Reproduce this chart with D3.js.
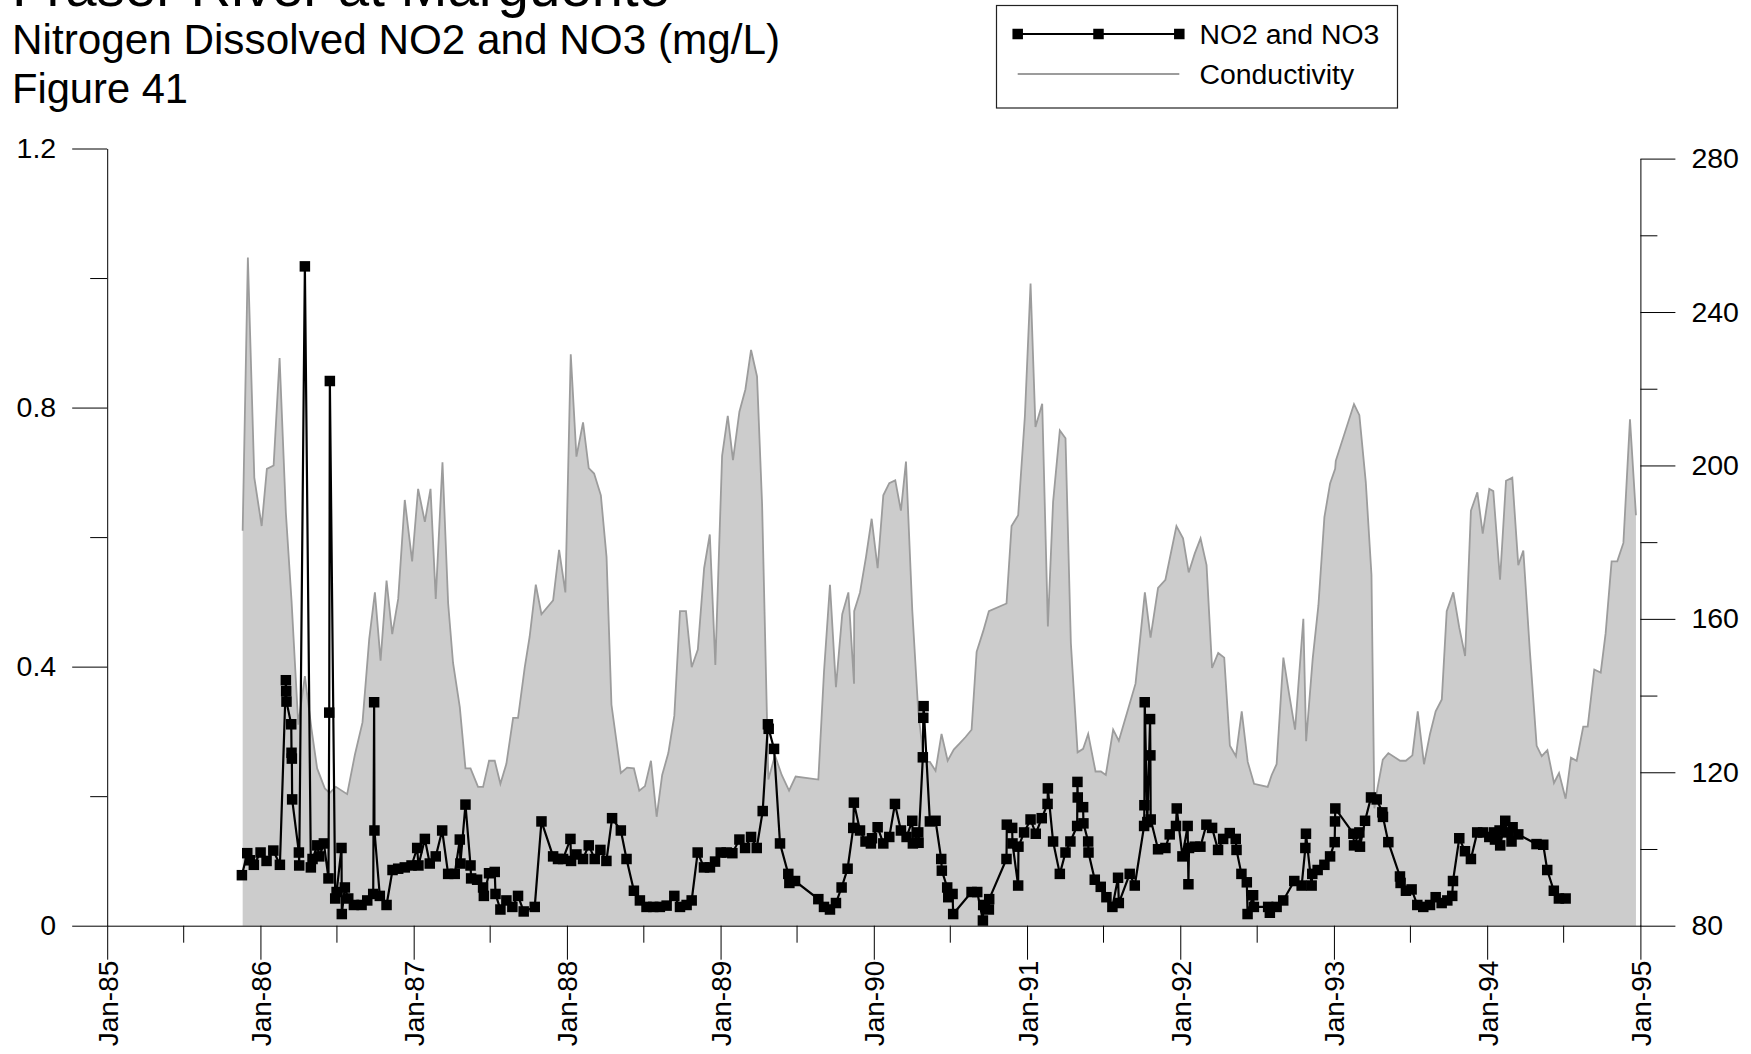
<!DOCTYPE html>
<html>
<head>
<meta charset="utf-8">
<script src="https://cdn.jsdelivr.net/npm/d3@7/dist/d3.min.js"></script>
<style>
  html, body { margin: 0; padding: 0; background: #fff; }
  svg { display: block; }
  text { font-family: "Liberation Sans", Arial, Helvetica, sans-serif; fill: #000; }
</style>
</head>
<body>
<svg id="chart" width="1751" height="1054"></svg>
<script>
// ---------------- DATA ----------------
const titleLines = ["Fraser River at Marguerite", "Nitrogen Dissolved NO2 and NO3 (mg/L)", "Figure 41"];
const seriesNames = ["NO2 and NO3", "Conductivity"];

const leftMajorTicks = [0, 0.4, 0.8, 1.2];
const leftMinorTicks = [0.2, 0.6, 1.0];
const rightMajorTicks = [80, 120, 160, 200, 240, 280];
const rightMinorTicks = [100, 140, 180, 220, 260];
const yearTicks = [1985, 1986, 1987, 1988, 1989, 1990, 1991, 1992, 1993, 1994, 1995];

// Conductivity (decimal year, value)
const condYear = [
1985.884,1985.918,1985.960,1986.008,1986.042,1986.086,1986.125,1986.166,1986.203,1986.247,
1986.290,1986.333,1986.370,1986.420,1986.452,1986.492,1986.566,1986.616,1986.666,1986.710,
1986.747,1986.784,1986.823,1986.860,1986.899,1986.942,1986.990,1987.029,1987.073,1987.110,
1987.144,1987.188,1987.225,1987.257,1987.301,1987.338,1987.371,1987.420,1987.453,1987.492,
1987.529,1987.566,1987.605,1987.649,1987.681,1987.725,1987.757,1987.797,1987.834,1987.910,
1987.949,1987.990,1988.025,1988.062,1988.105,1988.142,1988.177,1988.221,1988.258,1988.290,
1988.351,1988.392,1988.436,1988.471,1988.508,1988.547,1988.584,1988.620,1988.660,1988.699,
1988.736,1988.775,1988.812,1988.852,1988.893,1988.930,1988.966,1989.010,1989.047,1989.081,
1989.123,1989.162,1989.199,1989.238,1989.271,1989.312,1989.355,1989.399,1989.447,1989.490,
1989.638,1989.675,1989.714,1989.753,1989.794,1989.834,1989.871,1989.872,1989.910,1989.949,
1989.986,1990.025,1990.062,1990.101,1990.140,1990.177,1990.210,1990.251,1990.290,1990.327,
1990.366,1990.403,1990.442,1990.482,1990.522,1990.562,1990.599,1990.638,1990.671,1990.714,
1990.751,1990.866,1990.899,1990.942,1990.986,1991.023,1991.055,1991.099,1991.136,1991.170,
1991.214,1991.251,1991.286,1991.330,1991.366,1991.399,1991.447,1991.482,1991.514,1991.562,
1991.599,1991.708,1991.769,1991.806,1991.855,1991.903,1991.975,1992.018,1992.055,1992.094,
1992.132,1992.171,1992.207,1992.247,1992.286,1992.323,1992.362,1992.400,1992.439,1992.480,
1992.569,1992.595,1992.627,1992.671,1992.708,1992.747,1992.801,1992.819,1992.862,1992.899,
1992.938,1992.975,1993.008,1993.012,1993.131,1993.166,1993.208,1993.245,1993.264,1993.284,
1993.319,1993.355,1993.432,1993.469,1993.512,1993.547,1993.588,1993.627,1993.664,1993.704,
1993.736,1993.779,1993.818,1993.856,1993.894,1993.936,1993.971,1994.014,1994.040,1994.084,
1994.123,1994.164,1994.203,1994.236,1994.279,1994.323,1994.356,1994.393,1994.436,1994.469,
1994.512,1994.547,1994.584,1994.627,1994.656,1994.699,1994.741,1994.773,1994.812,1994.849,
1994.889,1994.932,1994.971
];
const condValue = [
183,254.2,196.8,184.2,199.1,200,228,187.6,164.7,132.4,
145.1,131.3,121,115.8,114.6,116.2,114.3,124.5,133,154.8,
166.9,149.1,170,156,165.2,191,175,193.9,185.3,193.9,
165.2,200.8,164,148.5,137,121,121,116.2,116.2,123,
123,117,122.2,134.2,134.2,147.4,155.4,168.9,161.2,164.8,
178,166.9,229,202.3,211.2,199.3,197.9,192.2,176.1,137.6,
119.8,121.2,121,115.2,116.4,123,108.4,119.3,125,134.7,
162,162,147.4,152,173.2,182,148,202.5,212.9,201.4,
214,219.8,230.1,223.2,189.9,118.1,124.4,119.3,115.2,118.9,
118.1,146.2,168.9,142.2,161.2,166.9,143.1,162,166.9,176.1,
186.1,173.2,192.2,195.4,196.1,188.2,201,162.3,135.9,122.7,
122.7,120.4,130,123,125.9,127.6,129.2,131.1,151.4,156.8,
162,164,184.2,187,212.9,247.4,210,216.1,158,190.5,
209.1,207.1,153.7,125.2,126.1,130,120.2,120.2,119.3,131.1,
128.2,143.1,166.9,155.1,168.1,170.2,184.2,181,172.1,177,
181,174,147.2,151.1,149.9,126.9,124.2,135.9,122.7,117,
116.2,119.3,122.1,149.9,140.5,131.1,160,128.1,149.7,163.5,
186.5,195.3,199.1,201.2,216,213.1,195.6,171.5,110.6,115.8,
123.3,125,123,123,124.4,135.9,122.1,130,135.9,139,
162,166.9,157.7,150.3,188.2,193,182.2,193.9,193.3,170.2,
196,196.8,174,177.8,151.4,126.9,124.2,125.8,117.2,119.8,
113.1,123.8,123,131.9,131.9,146.8,146,156.2,175,175,
179.8,212,187
];

// NO2 and NO3 (decimal year, mg/L)
const noYear = [
1985.879,1985.914,1985.931,1985.957,1986.001,1986.040,1986.084,1986.127,1986.166,1986.168,
1986.170,1986.201,1986.203,1986.205,1986.207,1986.251,1986.253,1986.290,1986.329,1986.340,
1986.371,1986.384,1986.414,1986.444,1986.449,1986.453,1986.488,1986.497,1986.529,1986.531,
1986.551,1986.573,1986.610,1986.660,1986.697,1986.736,1986.742,1986.744,1986.779,1986.823,
1986.862,1986.899,1986.942,1986.986,1987.023,1987.031,1987.073,1987.105,1987.144,1987.186,
1987.225,1987.268,1987.301,1987.305,1987.338,1987.371,1987.375,1987.414,1987.453,1987.458,
1987.492,1987.529,1987.534,1987.566,1987.605,1987.644,1987.681,1987.718,1987.790,1987.834,
1987.910,1987.942,1987.975,1988.023,1988.027,1988.062,1988.105,1988.142,1988.181,1988.218,
1988.257,1988.294,1988.351,1988.388,1988.436,1988.475,1988.518,1988.562,1988.605,1988.649,
1988.699,1988.736,1988.779,1988.812,1988.851,1988.892,
1988.931,1988.964,1989.001,1989.040,1989.077,1989.123,1989.160,1989.199,1989.236,1989.275,
1989.309,1989.314,1989.349,1989.388,1989.442,1989.449,1989.486,1989.638,1989.675,1989.714,
1989.753,1989.790,1989.829,1989.866,1989.870,1989.910,1989.946,1989.981,1989.988,1990.025,
1990.062,1990.101,1990.138,1990.177,1990.214,1990.251,1990.255,1990.290,1990.292,1990.320,
1990.323,1990.325,1990.366,1990.403,1990.440,1990.444,1990.479,1990.486,1990.514,1990.518,
1990.638,1990.675,1990.712,1990.714,1990.751,1990.753,1990.866,1990.868,1990.903,1990.905,
1990.942,1990.944,1990.981,1991.023,1991.057,1991.096,1991.134,1991.136,1991.170,1991.214,
1991.251,1991.283,1991.327,1991.329,1991.331,1991.366,1991.368,1991.399,1991.401,1991.442,
1991.481,1991.518,1991.557,1991.594,1991.599,1991.670,1991.703,1991.764,1991.766,1991.768,
1991.785,1991.803,1991.805,1991.807,1991.855,1991.903,
1991.931,1991.972,1991.977,1992.014,1992.048,1992.053,1992.057,1992.094,1992.131,1992.170,
1992.207,1992.246,1992.279,1992.322,1992.361,1992.366,1992.398,1992.433,1992.438,1992.474,
1992.479,1992.572,1992.583,1992.627,1992.670,1992.742,1992.790,1992.814,1992.818,1992.855,
1992.859,1992.894,1992.938,1992.975,1993.005,1993.007,1993.009,1993.127,1993.131,1993.166,
1993.170,1993.203,1993.242,1993.279,1993.316,1993.320,1993.355,1993.431,1993.435,1993.470,
1993.507,1993.544,1993.583,1993.627,1993.664,1993.703,1993.740,1993.772,1993.777,1993.818,
1993.855,1993.894,1993.935,1993.974,1994.014,1994.046,1994.051,1994.081,1994.085,1994.118,
1994.127,1994.159,1994.166,1994.203,1994.322,1994.366,1994.392,1994.435,1994.468,1994.512
];
const noValue = [
0.078,0.112,0.101,0.094,0.113,0.100,0.116,0.094,0.379,0.362,
0.346,0.311,0.267,0.258,0.195,0.113,0.093,1.018,0.090,0.103,
0.124,0.107,0.127,0.073,0.329,0.841,0.042,0.052,0.120,0.018,
0.059,0.042,0.032,0.032,0.039,0.049,0.345,0.147,0.046,0.032,
0.086,0.088,0.090,0.093,0.120,0.093,0.134,0.096,0.107,0.147,
0.080,0.080,0.133,0.096,0.187,0.093,0.073,0.071,0.059,0.046,
0.081,0.083,0.049,0.025,0.039,0.029,0.046,0.022,0.029,0.161,
0.107,0.103,0.103,0.134,0.100,0.110,0.103,0.124,0.103,0.117,
0.100,0.166,0.147,0.103,0.054,0.039,0.029,0.029,0.029,0.031,
0.046,0.029,0.032,0.039,0.113,0.090,
0.090,0.099,0.113,0.113,0.112,0.133,0.120,0.137,0.120,0.177,
0.311,0.304,0.273,0.127,0.080,0.066,0.069,0.041,0.029,0.025,
0.035,0.059,0.088,0.151,0.190,0.147,0.130,0.127,0.135,0.152,
0.127,0.137,0.188,0.147,0.137,0.162,0.127,0.144,0.128,0.260,
0.321,0.339,0.161,0.162,0.103,0.085,0.059,0.044,0.049,0.018,
0.052,0.052,0.008,0.032,0.025,0.041,0.103,0.156,0.151,0.127,
0.062,0.122,0.144,0.164,0.142,0.166,0.188,0.212,0.130,0.080,
0.113,0.130,0.154,0.222,0.198,0.183,0.158,0.130,0.113,0.071,
0.060,0.044,0.029,0.074,0.035,0.080,0.062,0.154,0.186,0.345,
0.160,0.319,0.263,0.164,0.118,0.120,
0.141,0.154,0.181,0.107,0.154,0.064,0.120,0.122,0.122,0.156,
0.151,0.117,0.134,0.143,0.134,0.117,0.080,0.067,0.018,0.047,
0.029,0.029,0.020,0.029,0.039,0.069,0.062,0.120,0.142,0.062,
0.080,0.086,0.094,0.107,0.129,0.161,0.181,0.142,0.124,0.144,
0.122,0.162,0.198,0.195,0.175,0.168,0.129,0.076,0.066,0.054,
0.056,0.032,0.029,0.032,0.044,0.035,0.039,0.046,0.069,0.135,
0.115,0.103,0.144,0.144,0.137,0.144,0.133,0.147,0.124,0.162,
0.144,0.130,0.152,0.141,0.126,0.125,0.086,0.054,0.042,0.042
];

// ---------------- HELPERS ----------------
function yearToDate(y) {
  const yr = Math.floor(y);
  const a = new Date(yr, 0, 1), b = new Date(yr + 1, 0, 1);
  return new Date(+a + (y - yr) * (b - a));
}

const cond = condYear.map((y, i) => ({ date: yearToDate(y), v: condValue[i] }));
const no = noYear.map((y, i) => ({ date: yearToDate(y), v: noValue[i] }));

// ---------------- SCALES ----------------
const plotLeft = 107.2, plotRight = 1640.4, plotBottom = 925.7;
const x = d3.scaleTime()
  .domain([new Date(1985, 0, 1), new Date(1995, 0, 1)])
  .range([plotLeft, plotRight]);
const yL = d3.scaleLinear().domain([0, 1.2]).range([plotBottom, 148.5]);
const yR = d3.scaleLinear().domain([80, 280]).range([plotBottom, 158.6]);

const svg = d3.select("#chart");
svg.append("rect").attr("width", 1751).attr("height", 1054).attr("fill", "#fff");

// ---------------- CONDUCTIVITY AREA ----------------
svg.append("path")
  .datum(cond)
  .attr("fill", "#cccccc")
  .attr("d", d3.area().x(d => x(d.date)).y0(yR(80)).y1(d => yR(d.v)));
svg.append("path")
  .datum(cond)
  .attr("fill", "none")
  .attr("stroke", "#9c9c9c")
  .attr("stroke-width", 1.8)
  .attr("d", d3.line().x(d => x(d.date)).y(d => yR(d.v)));

// ---------------- NO2/NO3 LINE ----------------
svg.append("path")
  .datum(no)
  .attr("fill", "none")
  .attr("stroke", "#000")
  .attr("stroke-width", 2.2)
  .attr("d", d3.line().x(d => x(d.date)).y(d => yL(d.v)));
const MS = 10.5;
svg.append("g").selectAll("rect").data(no).join("rect")
  .attr("x", d => x(d.date) - MS / 2)
  .attr("y", d => yL(d.v) - MS / 2)
  .attr("width", MS).attr("height", MS)
  .attr("fill", "#000");

// ---------------- AXES ----------------
const FONT = '"Liberation Sans", Arial, sans-serif';
function styleAxis(g, fontSize) {
  g.attr("font-family", null).attr("font-size", null);
  g.selectAll("path, line").attr("stroke", "#000").attr("stroke-width", 1);
  g.selectAll("text").attr("fill", "#000").style("font-size", fontSize + "px").style("font-family", FONT);
}

// X axis
const majorDates = yearTicks.map(y => new Date(y, 0, 1));
const minorDates = yearTicks.slice(0, -1).map(y => new Date(y, 6, 1));
const gxMinor = svg.append("g").attr("transform", `translate(0,${plotBottom})`)
  .call(d3.axisBottom(x).tickValues(minorDates).tickSize(17).tickSizeOuter(0).tickFormat(""));
styleAxis(gxMinor, 28);
gxMinor.select(".domain").remove();
const gx = svg.append("g").attr("transform", `translate(0,${plotBottom})`)
  .call(d3.axisBottom(x).tickValues(majorDates).tickSize(34).tickSizeOuter(0)
    .tickFormat(d3.timeFormat("%b-%y")));
styleAxis(gx, 28);
gx.selectAll(".tick text")
  .attr("y", null).attr("dy", null)
  .attr("text-anchor", "end")
  .attr("transform", "translate(10,35) rotate(-90)");

// Left axis
const gyLMinor = svg.append("g").attr("transform", `translate(${plotLeft},0)`)
  .call(d3.axisLeft(yL).tickValues(leftMinorTicks).tickSize(17).tickSizeOuter(0).tickFormat(""));
styleAxis(gyLMinor, 28);
gyLMinor.select(".domain").remove();
const gyL = svg.append("g").attr("transform", `translate(${plotLeft},0)`)
  .call(d3.axisLeft(yL).tickValues(leftMajorTicks).tickSize(35).tickPadding(16).tickSizeOuter(0)
    .tickFormat(d => d === 0 ? "0" : d3.format(".1f")(d)));
styleAxis(gyL, 28.5);

// Right axis
const gyRMinor = svg.append("g").attr("transform", `translate(${plotRight},0)`)
  .call(d3.axisRight(yR).tickValues(rightMinorTicks).tickSize(17).tickSizeOuter(0).tickFormat(""));
styleAxis(gyRMinor, 28);
gyRMinor.select(".domain").remove();
const gyR = svg.append("g").attr("transform", `translate(${plotRight},0)`)
  .call(d3.axisRight(yR).tickValues(rightMajorTicks).tickSize(35).tickPadding(16).tickSizeOuter(0)
    .tickFormat(d3.format("d")));
styleAxis(gyR, 28.5);

// ---------------- TITLES ----------------
const titleSpecs = [
  { size: 56, y: 6, len: 658 },
  { size: 42.3, y: 53.5, len: 768 },
  { size: 42.3, y: 102.7, len: 176 }
];
titleLines.forEach((t, i) => {
  svg.append("text").attr("x", 12).attr("y", titleSpecs[i].y)
    .attr("textLength", titleSpecs[i].len).attr("lengthAdjust", "spacingAndGlyphs")
    .style("font-size", titleSpecs[i].size + "px").text(t);
});

// ---------------- LEGEND ----------------
const lg = svg.append("g");
lg.append("rect").attr("x", 996.5).attr("y", 5.5).attr("width", 401).attr("height", 102.5)
  .attr("fill", "#fff").attr("stroke", "#222").attr("stroke-width", 1.2);
const lx0 = 1017.7, lx1 = 1179.3;
lg.append("line").attr("x1", lx0).attr("x2", lx1).attr("y1", 34).attr("y2", 34)
  .attr("stroke", "#000").attr("stroke-width", 2);
[lx0, (lx0 + lx1) / 2, lx1].forEach(px => {
  lg.append("rect").attr("x", px - MS / 2).attr("y", 34 - MS / 2)
    .attr("width", MS).attr("height", MS).attr("fill", "#000");
});
lg.append("line").attr("x1", lx0).attr("x2", lx1).attr("y1", 74).attr("y2", 74)
  .attr("stroke", "#9c9c9c").attr("stroke-width", 1.8);
lg.append("text").attr("x", 1199.5).attr("y", 44).style("font-size", "28.4px").text(seriesNames[0]);
lg.append("text").attr("x", 1199.5).attr("y", 83.5).style("font-size", "28.4px").text(seriesNames[1]);
</script>
</body>
</html>
